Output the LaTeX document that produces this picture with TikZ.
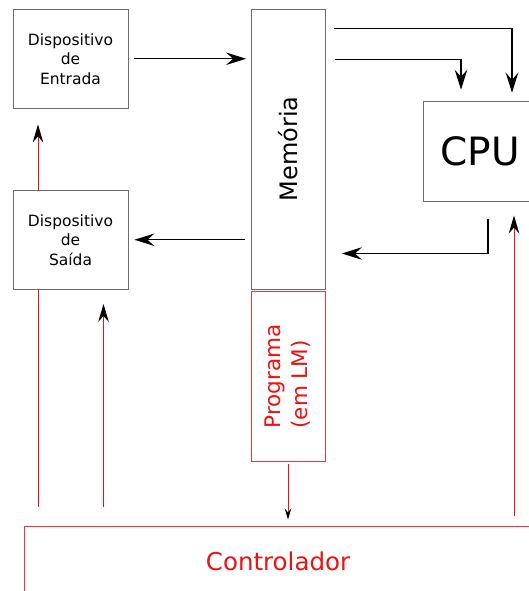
\documentclass[tikz,border=0pt]{standalone}
\usepackage{fontspec}
\setmainfont{DejaVu Sans}
\usetikzlibrary{arrows.meta, backgrounds, positioning}
\definecolor{ctrlRed}{HTML}{EE1111}
\definecolor{boxGrey}{HTML}{6B6B6B}
\tikzset{
  unit/.style      = {draw=boxGrey, line width=0.8pt, fill=white, inner sep=0pt, align=center},
  progbox/.style   = {draw=ctrlRed!85, line width=1pt, fill=white, inner sep=0pt, align=center},
  devtxt/.style    = {font=\fontsize{15.5}{19.5}\selectfont},
  datarrow/.style  = {-{Stealth[length=20pt, width=12.5pt, inset=7pt]}, line width=1.2pt, black},
  ctrlline/.style  = {-{Stealth[length=18pt, width=10.5pt, inset=6pt, color=black]},
                      line width=1pt, ctrlRed},
}

\begin{document}
\begin{tikzpicture}[x=1pt,y=-1pt]
  \useasboundingbox (0,0) rectangle (528,591);
  % units
  \node[unit, devtxt, minimum width=115pt, minimum height=99.5pt] (entrada) at (70.5,58.75) {Dispositivo\\de\\Entrada};
  \node[unit, devtxt, minimum width=115pt, minimum height=99.5pt] (saida) at (70.5,239.75) {Dispositivo\\de\\Saída};
  \node[unit, minimum width=74pt, minimum height=280pt,
        label={[rotate=90, font=\fontsize{24}{29}\selectfont]center:Memória}] (memoria) at (288.5,149) {};
  \node[progbox, minimum width=74pt, minimum height=170pt,
        label={[rotate=90, ctrlRed, align=left, font=\fontsize{21.5}{27}\selectfont]center:Programa\\(em LM)}] (programa) at (288,376.5) {};
  \node[unit, font=\fontsize{39}{47}\selectfont, minimum width=114pt, minimum height=99.5pt] (cpu) at (480,151.4) {CPU};
  \node[progbox, text=ctrlRed, font=\fontsize{24.5}{29}\selectfont, minimum width=508pt, minimum height=70pt] (ctrl) at (278,561) {Controlador};
  % data paths
  \draw[datarrow, shorten <=6pt, shorten >=5pt] (entrada.east) -- (entrada.east -| memoria.west);
  \draw[datarrow, shorten <=6.5pt, shorten >=6pt] (saida.east -| memoria.west) -- (saida.east);
  \draw[datarrow, shorten >=8.5pt] ([xshift=8pt, yshift=-20pt]memoria.north east) -| ([xshift=32pt]cpu.north);
  \draw[datarrow, shorten >=11.5pt] ([xshift=9pt, yshift=-51pt]memoria.north east) -| ([xshift=-19pt]cpu.north);
  \draw[datarrow, shorten <=17pt, shorten >=16pt] ([xshift=8pt]cpu.south) |- ([yshift=-104.5pt]memoria.east);
  % control lines
  \coordinate (inA) at ([xshift=-32.5pt]entrada.south);
  \coordinate (outA) at ([xshift=33pt]saida.south);
  \coordinate (cpuA) at ([xshift=34pt]cpu.south);
  \begin{scope}[on background layer]
    \draw[ctrlline, shorten <=19pt, shorten >=15.5pt] (ctrl.north -| inA) -- (inA);
    \draw[ctrlline, shorten <=19pt, shorten >=14pt] (ctrl.north -| outA) -- (outA);
    \draw[ctrlline, shorten <=10pt, shorten >=14pt] (ctrl.north -| cpuA) -- (cpuA);
    \draw[ctrlline, -{Stealth[length=11pt, width=6.5pt, inset=4pt, color=black]}, line width=0.8pt,
          shorten <=1.5pt, shorten >=6pt] (programa.south) -- (programa.south |- ctrl.north);
  \end{scope}
\end{tikzpicture}
\end{document}
